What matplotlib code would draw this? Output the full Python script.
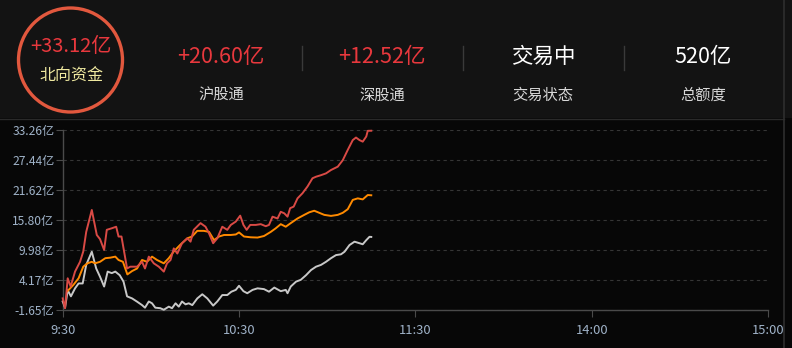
import matplotlib
matplotlib.use('Agg')
import matplotlib.pyplot as plt
from matplotlib.patches import Rectangle, Ellipse
from matplotlib.lines import Line2D

plt.rcParams['font.family'] = ['Noto Sans CJK SC', 'DejaVu Sans']

W, H = 792, 348

# minutes after 9:30 (trading time, lunch break removed)
total_t = [0, 0.8, 1.7, 2.7, 4.2, 5.9, 7, 8, 9.9, 11.6, 12.7, 14.1, 15, 16.7, 18.2, 19, 20,
           21.9, 23, 25.3, 27, 28, 29.3, 31, 32.7, 34.4, 35.5, 36.7, 37.8, 39, 40.6, 42.4,
           43.5, 44.6, 46.9, 48.6, 49.8, 51.2, 52.6, 54.3, 56, 57.2, 58.9, 60.4, 61.5, 62.6,
           63.8, 65.7, 67.4, 69.1, 70.2, 71.4, 73.1, 74.2, 75.4, 76.5, 77.4, 78.6, 79.9, 81.6,
           83.3, 85, 86.2, 87.9, 89.6, 91.3, 93.6, 95.3, 97, 98.7, 99.8, 101, 102.1, 103.3,
           103.8, 105]
total_v = [0.61, -1.3, 4.5, 2.9, 5.8, 7.7, 9.7, 13.5, 17.75, 12.9, 12.1, 10.0, 13.9, 14.2, 14.5,
           12.6, 12.6, 6.4, 6.75, 6.75, 7.7, 6.4, 8.7, 7.4, 6.75, 5.8, 7.4, 8.05, 10.3, 9.3, 11.3,
           12.25, 11.6, 13.9, 15.2, 14.5, 13.2, 11.3, 12.25, 14.5, 13.9, 14.85, 15.5, 16.65, 14.85,
           13.9, 14.85, 14.85, 15.0, 14.6, 14.85, 16.45, 16.1, 17.4, 17.1, 16.45, 18.1, 18.4, 20.0,
           21.0, 22.3, 23.9, 24.2, 24.5, 24.85, 25.5, 26.15, 27.4, 29.4, 31.3, 31.8, 31.3, 31.0,
           32.0, 33.1, 33.12]

sh_t = [1.6, 3.6, 5.4, 7, 8.4, 9.9, 11, 12.7, 14.5, 16.2, 17.9, 19, 20.5, 22, 23.6, 25.3, 27,
        28.7, 30.4, 32.1, 34.4, 36.1, 37.8, 40, 42.4, 44, 45.8, 48, 49.8, 51.5, 53.2, 54.9, 57.2,
        58.9, 60, 61.7, 64, 66.3, 68.5, 70.8, 72.5, 74.2, 75.9, 77.6, 79.9, 82.2, 83.9, 85.6,
        87.3, 89, 91.3, 93.6, 95.3, 97, 98.7, 100.4, 102.1, 103.8, 105]
sh_v = [2.0, 3.2, 4.5, 6.75, 7.4, 7.7, 7.4, 7.7, 8.4, 8.5, 8.7, 8.05, 7.7, 5.25, 5.9, 6.4, 8.05,
        7.7, 8.7, 8.05, 7.4, 8.4, 9.7, 11.0, 12.25, 12.6, 13.7, 13.7, 13.5, 11.9, 12.6, 12.9, 12.9,
        13.0, 13.4, 12.6, 12.45, 12.4, 12.7, 13.5, 14.2, 15.0, 14.5, 15.2, 16.1, 16.8, 17.3, 17.6,
        17.2, 16.8, 16.6, 16.8, 17.2, 17.9, 19.7, 20.0, 19.8, 20.65, 20.6]

sz_t = [0, 0.8, 1.7, 2.8, 4.2, 5.4, 6.8, 8, 9.9, 11.4, 12.7, 14.1, 15.3, 16.7, 17.9, 19.4, 20.7,
        21.9, 23.6, 25.3, 27, 28, 29.3, 30.4, 31.5, 33.2, 34.4, 36.1, 37.2, 38.4, 39.5, 40.6,
        41.8, 42.9, 44.1, 45.8, 47.5, 49.2, 51.2, 52.6, 54.3, 56, 57.4, 58.9, 60, 61.5, 62.8,
        64.6, 66.3, 68.5, 70.2, 72, 74.2, 75.9, 76.5, 77.6, 79.4, 81, 82.8, 84.5, 86.2, 87.9,
        89.6, 91.3, 93, 94.7, 95.9, 97.6, 99.3, 101, 102.1, 103.3, 104.4, 105]
sz_v = [0.0, -1.2, 2.2, 1.0, 2.55, 3.5, 3.5, 7.1, 9.65, 6.4, 4.8, 2.9, 5.8, 5.5, 5.8, 5.1, 3.85,
        1.0, 0.6, -0.03, -0.7, -1.2, 0.0, -0.35, -1.2, -1.3, -1.6, -1.0, -1.3, -0.35, -1.0, 0.0,
        -0.55, -0.35, -0.7, 0.6, 1.4, 0.6, -0.8, 0.0, 1.25, 1.25, 1.9, 2.25, 3.05, 2.0, 1.6,
        2.25, 2.55, 2.4, 1.9, 2.7, 2.0, 2.25, 1.6, 2.9, 3.85, 4.2, 5.1, 6.1, 6.75, 7.1,
        7.7, 8.4, 9.0, 9.15, 9.65, 10.95, 11.6, 11.3, 11.1, 11.9, 12.55, 12.52]

y_ticks = [-1.65, 4.17, 9.98, 15.80, 21.62, 27.44, 33.26]
x_ticks = [0, 60, 120, 180, 240]
x_labels = ['9:30', '10:30', '11:30', '14:00', '15:00']

header_values = ['+20.60亿', '+12.52亿', '交易中', '520亿']
header_names = ['沪股通', '深股通', '交易状态', '总额度']
header_colors = ['#e8383d', '#e8383d', '#ffffff', '#ffffff']
header_x = [221, 382, 543, 703]
sep_x = [302, 463, 624]


def fx(px):
	return px / W


def fy(py):
	return 1 - py / H


fig = plt.figure(figsize=(W / 100, H / 100), dpi=100)
fig.patch.set_facecolor('#070707')

# header panel
fig.add_artist(Rectangle((0, fy(118)), 1, 118 / H, transform=fig.transFigure,
                         facecolor='#131313', edgecolor='none', zorder=0))
fig.add_artist(Line2D([0, fx(784)], [fy(119), fy(119)], transform=fig.transFigure,
                      color='#2a2a2a', linewidth=1))
fig.add_artist(Line2D([fx(784), fx(784)], [0, 1], transform=fig.transFigure,
                      color='#2e2e2e', linewidth=1.2))

# circle badge
fig.add_artist(Ellipse((fx(70.5), fy(60)), 104 / W, 104 / H, transform=fig.transFigure,
                       facecolor='none', edgecolor='#e2583e', linewidth=2.4))
fig.text(fx(71), fy(47), '+33.12亿', color='#e8383d', fontsize=14.5, ha='center', va='center')
fig.text(fx(71), fy(76), '北向资金', color='#efe9a0', fontsize=11.5, ha='center', va='center')

for i in range(len(header_values)):
	fig.text(fx(header_x[i]), fy(57), header_values[i], color=header_colors[i], fontsize=15.5,
	         ha='center', va='center')
	fig.text(fx(header_x[i]), fy(95), header_names[i], color='#d8d8d8', fontsize=11,
	         ha='center', va='center')

for sx in sep_x:
	fig.add_artist(Line2D([fx(sx), fx(sx)], [fy(46), fy(70)], transform=fig.transFigure,
	                      color='#3a3a3a', linewidth=1))

# chart
ax = fig.add_axes([fx(62.7), fy(310), (768 - 62.7) / W, 180 / H])
ax.set_facecolor('none')
ax.set_xlim(0, 240)
ax.set_ylim(-1.65, 33.26)

ax.plot(sz_t, sz_v, color='#c8c8c8', linewidth=1.4, clip_on=False, zorder=3)
ax.plot(sh_t, sh_v, color='#ff8a00', linewidth=1.4, clip_on=False, zorder=4)
ax.plot(total_t, total_v, color='#d94a45', linewidth=1.4, clip_on=False, zorder=5)

ax.set_yticks(y_ticks)
ax.set_yticklabels([f'{v:.2f}亿' for v in y_ticks])
ax.set_xticks(x_ticks)
ax.set_xticklabels(x_labels)
ax.tick_params(axis='both', colors='#4a4a4a', labelcolor='#9fb2c8', labelsize=8.7,
               length=5, width=0.8)
ax.tick_params(axis='x', labelsize=9.3, pad=5)
ax.tick_params(axis='y', pad=1)

ax.yaxis.grid(True, linestyle=(0, (3, 3)), color='#353535', linewidth=0.8)
for s in ['top', 'right']:
	ax.spines[s].set_visible(False)
for s in ['left', 'bottom']:
	ax.spines[s].set_color('#4a4a4a')
	ax.spines[s].set_linewidth(1)

fig.savefig('out.png', dpi=100, facecolor=fig.get_facecolor())
